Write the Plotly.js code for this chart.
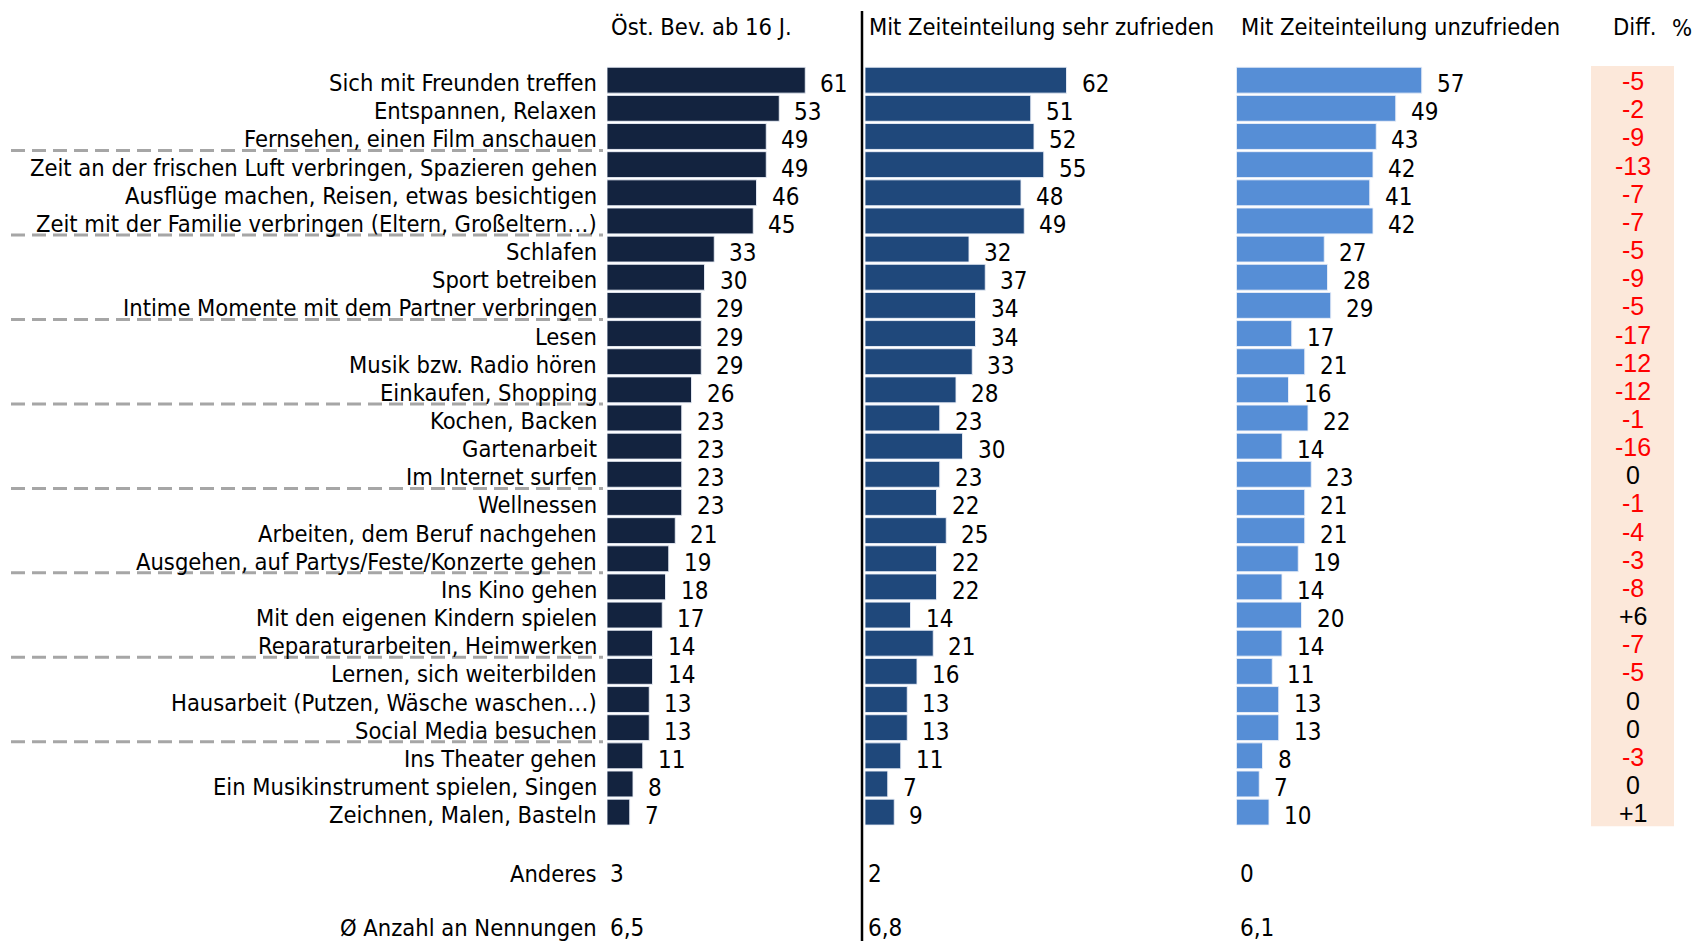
<!DOCTYPE html>
<html><head><meta charset="utf-8">
<script src="https://cdn.plot.ly/plotly-3.0.1.min.js"></script>
<style>html,body{margin:0;padding:0;background:#fff;} #chart{width:1700px;height:941px;}</style>
</head><body><div id="chart"></div>
<script>
const categories = [
  "Sich mit Freunden treffen",
  "Entspannen, Relaxen",
  "Fernsehen, einen Film anschauen",
  "Zeit an der frischen Luft verbringen, Spazieren gehen",
  "Ausflüge machen, Reisen, etwas besichtigen",
  "Zeit mit der Familie verbringen (Eltern, Großeltern…)",
  "Schlafen",
  "Sport betreiben",
  "Intime Momente mit dem Partner verbringen",
  "Lesen",
  "Musik bzw. Radio hören",
  "Einkaufen, Shopping",
  "Kochen, Backen",
  "Gartenarbeit",
  "Im Internet surfen",
  "Wellnessen",
  "Arbeiten, dem Beruf nachgehen",
  "Ausgehen, auf Partys/Feste/Konzerte gehen",
  "Ins Kino gehen",
  "Mit den eigenen Kindern spielen",
  "Reparaturarbeiten, Heimwerken",
  "Lernen, sich weiterbilden",
  "Hausarbeit (Putzen, Wäsche waschen…)",
  "Social Media besuchen",
  "Ins Theater gehen",
  "Ein Musikinstrument spielen, Singen",
  "Zeichnen, Malen, Basteln"
];
const valuesTotal       = [61,53,49,49,46,45,33,30,29,29,29,26,23,23,23,23,21,19,18,17,14,14,13,13,11,8,7];
const valuesSatisfied   = [62,51,52,55,48,49,32,37,34,34,33,28,23,30,23,22,25,22,22,14,21,16,13,13,11,7,9];
const valuesUnsatisfied = [57,49,43,42,41,42,27,28,29,17,21,16,22,14,23,21,21,19,14,20,14,11,13,13,8,7,10];
const diffValues        = [-5,-2,-9,-13,-7,-7,-5,-9,-5,-17,-12,-12,-1,-16,0,-1,-4,-3,-8,6,-7,-5,0,0,-3,0,1];
const headers = ["Öst. Bev. ab 16 J.", "Mit Zeiteinteilung sehr zufrieden", "Mit Zeiteinteilung unzufrieden"];
const diffHeader = "Diff.";
const percentHeader = "%";
const otherLabel = "Anderes";
const otherValues = ["3", "2", "0"];
const avgLabel = "Ø Anzahl an Nennungen";
const avgValues = ["6,5", "6,8", "6,1"];
const separatorEvery = 3;

const W = 1700, H = 941;
const px = v => v / W;
const py = v => 1 - v / H;
const narrow = '"Liberation Sans Narrow", "Arial Narrow", "DejaVu Sans Condensed", sans-serif';
const regular = '"Liberation Sans", Arial, sans-serif';
const labelSize = 23.5, numSize = 24, diffSize = 25;
const colors = ["#13233f", "#1f487b", "#568ed6"];
const xStarts = [607, 865, 1236.5];
const unitPx = 3.25, xMax = 70;
const axisNames = ["x", "x2", "x3"];
const series = [valuesTotal, valuesSatisfied, valuesUnsatisfied];

const traces = series.map((vals, i) => ({
  type: "bar", orientation: "h",
  x: vals, y: categories,
  xaxis: axisNames[i], yaxis: "y",
  marker: {color: colors[i], line: {color: "rgba(235,240,248,0.9)", width: 1}},
  hoverinfo: "x+y", showlegend: false
}));

const annotations = [];
categories.forEach(c => annotations.push({
  xref: "paper", yref: "y", x: px(599), y: c, xanchor: "right", yanchor: "middle",
  text: c, showarrow: false, yshift: -3,
  font: {family: narrow, size: labelSize, color: "#000"}
}));
series.forEach((vals, i) => vals.forEach((v, j) => annotations.push({
  xref: axisNames[i], yref: "y", x: v, y: categories[j], xanchor: "left", yanchor: "middle",
  text: String(v), showarrow: false, xshift: 13, yshift: -4,
  font: {family: narrow, size: numSize, color: "#000"}
})));
diffValues.forEach((d, j) => annotations.push({
  xref: "paper", yref: "y", x: px(1633), y: categories[j], xanchor: "center", yanchor: "middle",
  text: d > 0 ? "+" + d : String(d), showarrow: false, yshift: -1,
  font: {family: regular, size: diffSize, color: d < 0 ? "#ff0000" : "#000"}
}));
headers.forEach((h, i) => annotations.push({
  xref: "paper", yref: "paper", x: px(xStarts[i] + 2), y: py(27), xanchor: "left", yanchor: "middle",
  text: h, showarrow: false, font: {family: narrow, size: labelSize, color: "#000"}
}));
annotations.push({xref: "paper", yref: "paper", x: px(1611), y: py(27), xanchor: "left", yanchor: "middle",
  text: diffHeader, showarrow: false, font: {family: narrow, size: labelSize, color: "#000"}});
annotations.push({xref: "paper", yref: "paper", x: px(1670), y: py(28), xanchor: "left", yanchor: "middle",
  text: percentHeader, showarrow: false, font: {family: narrow, size: labelSize, color: "#000"}});
[[otherLabel, otherValues, 874], [avgLabel, avgValues, 928]].forEach(([lab, vals, yy]) => {
  annotations.push({xref: "paper", yref: "paper", x: px(599), y: py(yy), xanchor: "right", yanchor: "middle",
    text: lab, showarrow: false, font: {family: narrow, size: labelSize, color: "#000"}});
  vals.forEach((v, i) => annotations.push({xref: "paper", yref: "paper", x: px(xStarts[i] + 1), y: py(yy),
    xanchor: "left", yanchor: "middle", text: v, showarrow: false,
    font: {family: narrow, size: numSize, color: "#000"}}));
});

const shapes = [];
shapes.push({type: "rect", layer: "below", xref: "paper", yref: "y", x0: px(1591), x1: px(1674),
  y0: -0.52, y1: categories.length - 0.4, fillcolor: "#fce8da", line: {width: 0}});
for (let i = separatorEvery; i < categories.length; i += separatorEvery) {
  shapes.push({type: "line", layer: "above", xref: "paper", yref: "y", x0: px(11), x1: px(603),
    y0: i - 0.5, y1: i - 0.5, line: {color: "#a6a6a6", width: 3, dash: "14px,7px"}});
}
shapes.push({type: "line", xref: "paper", yref: "paper", x0: px(862), x1: px(862), y0: py(11), y1: 0,
  line: {color: "#000", width: 2.5}});

const axisBase = {range: [0, xMax], showgrid: false, zeroline: false, showticklabels: false,
  showline: false, ticks: "", fixedrange: true};
const layout = {
  width: W, height: H, margin: {l: 0, r: 0, t: 0, b: 0},
  paper_bgcolor: "#fff", plot_bgcolor: "rgba(0,0,0,0)",
  bargap: 0.08, showlegend: false,
  xaxis:  Object.assign({}, axisBase, {domain: [px(xStarts[0]), px(xStarts[0] + xMax * unitPx)], anchor: "y"}),
  xaxis2: Object.assign({}, axisBase, {domain: [px(xStarts[1]), px(xStarts[1] + xMax * unitPx)], anchor: "y"}),
  xaxis3: Object.assign({}, axisBase, {domain: [px(xStarts[2]), px(xStarts[2] + xMax * unitPx)], anchor: "y"}),
  yaxis: {type: "category", categoryorder: "array", categoryarray: categories,
    range: [categories.length - 0.5, -0.5], domain: [py(826.2), py(66.1)],
    showgrid: false, zeroline: false, showticklabels: false, ticks: "", showline: false, fixedrange: true},
  annotations: annotations, shapes: shapes
};
Plotly.newPlot("chart", traces, layout, {displayModeBar: false, staticPlot: true});
</script>
</body></html>
